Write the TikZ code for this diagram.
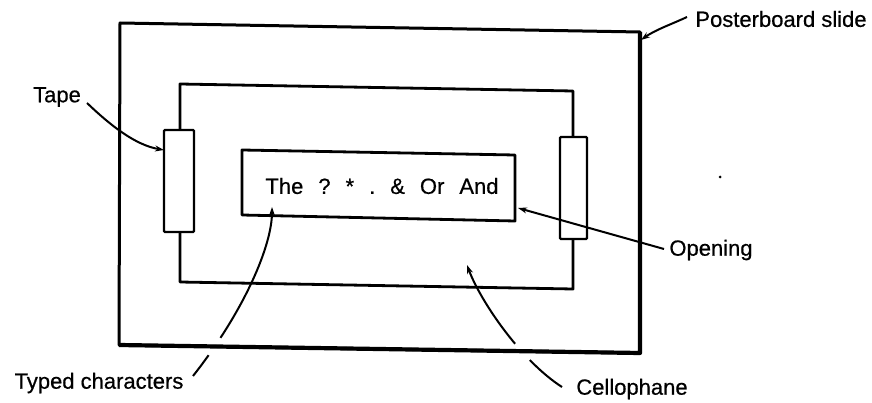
\documentclass[tikz,border=0pt]{standalone}
\usepackage{fontspec}
\setmainfont[FakeBold=0.6]{Liberation Sans}
\usetikzlibrary{arrows.meta}
\begin{document}
\begin{tikzpicture}[x=1pt,y=-1pt,
  frame/.style={line width=3pt, line join=round},
  heavy/.style={line width=4.2pt, line join=round},
  cello/.style={line width=2.8pt, line join=round},
  tapebox/.style={line width=2.4pt, fill=white, rounded corners=1pt},
  openbox/.style={line width=2.8pt, line join=round},
  lead/.style={line width=2pt},
  tip/.style={-{Stealth[length=9pt,width=6pt]}},
  lbl/.style={font=\fontsize{22}{24}\selectfont, inner sep=0pt}]
\useasboundingbox (0,0) rectangle (872,403);
% posterboard slide
\coordinate (oTL) at (120,23);
\coordinate (oTR) at (640,32);
\coordinate (oBR) at (640,353);
\coordinate (oBL) at (119,345);
\draw[frame] (oTL) -- (oTR) -- (oBR) -- (oBL) -- cycle;
\draw[heavy] (oTR) -- (oBR) -- (oBL);
% cellophane
\coordinate (cTL) at (180,84);
\coordinate (cTR) at (573,91);
\coordinate (cBR) at (573,289);
\coordinate (cBL) at (180,282);
\draw[cello] (cTL) -- (cTR) -- (cBR) -- (cBL) -- cycle;
% tapes
\draw[tapebox] (164,130) rectangle (194,232);
\coordinate (tapeL) at (164,150);
\draw[tapebox] (560,137) rectangle (587,239);
% opening
\coordinate (pTL) at (242,150);
\coordinate (pTR) at (515,155);
\coordinate (pBR) at (515,221);
\coordinate (pBL) at (242,215);
\draw[openbox] (pTL) -- (pTR) -- (pBR) -- (pBL) -- cycle;
\node[lbl] (typed) at (382,186) {The\hspace{15pt}?\hspace{15pt}*\hspace{15pt}.\hspace{15pt}\&\hspace{15pt}Or\hspace{15pt}And};
% stray mark
\fill (720,177) circle (1.5pt);
% labels
\node[lbl] (ltape) at (57,97) {Tape};
\node[lbl] (lposter) at (781,19) {Posterboard slide};
\node[lbl] (lopen) at (711,250) {Opening};
\node[lbl] (ltyped) at (99,383) {Typed characters};
\node[lbl] (lcello) at (632,389) {Cellophane};
% leaders
\coordinate (a1) at (87,103);
\draw[lead,tip] (a1) .. controls (110,125) and (135,145) .. (tapeL);
\coordinate (a2) at (687,17);
\coordinate (a2t) at (641,40);
\draw[lead,tip] (a2) .. controls (672,24) and (655,30) .. (a2t);
\coordinate (a3) at (664,249);
\coordinate (a3t) at (518,208);
\draw[lead,tip] (a3) -- (a3t);
\coordinate (a4) at (193,376);
\coordinate (a4t) at (272,207);
\draw[lead,tip,dash pattern=on 26pt off 21pt on 500pt] (a4) .. controls (245,310) and (272,245) .. (a4t);
\coordinate (a5) at (562,387);
\coordinate (a5t) at (467,265);
\draw[lead,tip,dash pattern=on 42pt off 22pt on 500pt] (a5) .. controls (520,360) and (480,300) .. (a5t);
\end{tikzpicture}
\end{document}
